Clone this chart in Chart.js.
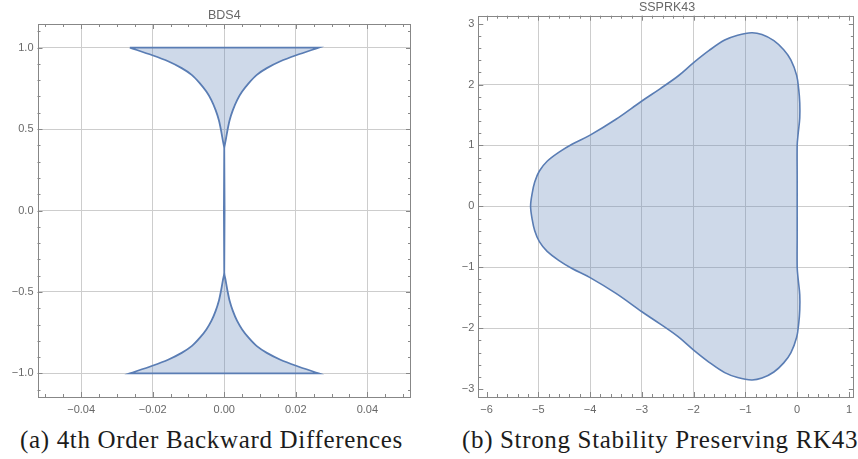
<!DOCTYPE html>
<html>
<head>
<meta charset="UTF-8">
<title>Stability regions</title>
<script src="https://cdn.jsdelivr.net/npm/chart.js"></script>
<style>
  body { margin: 0; width: 858px; height: 459px; overflow: hidden; background: #fff; position: relative; }
  canvas { position: absolute; top: 0; }
  #bds { left: 0; }
  #ssp { left: 430px; }
  .caption {
    position: absolute; top: 427px; white-space: nowrap;
    font-family: "Liberation Serif", serif; font-size: 25px; line-height: 25px; color: #1c1c1c;
  }
</style>
</head>
<body>

<canvas id="bds" width="430" height="420"></canvas>
<canvas id="ssp" width="428" height="420"></canvas>
<div class="caption" id="capA" style="left:20px">(a) 4th Order Backward Differences</div>
<div class="caption" id="capB" style="left:462px">(b) Strong Stability Preserving RK43</div>

<script>
// BDS4 boundary: upper-right quarter, the region is symmetric in x and y
const bdsY         = [1.000, 0.953, 0.916, 0.874, 0.833, 0.781, 0.730, 0.678, 0.616, 0.554, 0.492, 0.430, 0.380];
const bdsHalfWidth = [0.0264, 0.0201, 0.0157, 0.0119, 0.0091, 0.0068, 0.0050, 0.0036, 0.0024, 0.0015, 0.0009, 0.0004, 0.0];

// SSPRK43 boundary, upper half (mirror image below the real axis), right edge -> left tip
const sspX = [0.00, 0.00, 0.00, 0.02, 0.05, 0.05, 0.03, -0.01, -0.12, -0.26, -0.45, -0.68, -0.88, -1.15, -1.40, -1.70,
              -2.00, -2.30, -2.65, -3.00, -3.50, -4.00, -4.35, -4.60, -4.83, -4.98, -5.07, -5.12, -5.15];
const sspY = [0.00, 0.50, 1.00, 1.20, 1.45, 1.70, 1.92, 2.15, 2.40, 2.57, 2.72, 2.82, 2.85, 2.81, 2.73, 2.56,
              2.36, 2.14, 1.93, 1.73, 1.43, 1.17, 1.02, 0.89, 0.74, 0.58, 0.40, 0.21, 0.00];

// tick labels and grid lines
const bdsXTicks = [-0.04, -0.02, 0, 0.02, 0.04];
const bdsYTicks = [-1, -0.5, 0, 0.5, 1];
const sspXTicks = [-6, -5, -4, -3, -2, -1, 0, 1];
const sspYTicks = [-3, -2, -1, 0, 1, 2, 3];
const sspGridX = [-5, -4, -3, -2, -1, 0];
const sspGridY = [-2, -1, 0, 1, 2];

const lineColor = 'rgb(90,125,180)';
const fillColor = 'rgba(94,129,181,0.3)';
const gridColor = 'rgb(205,205,205)';
const frameColor = 'rgb(135,135,135)';
const labelColor = 'rgb(104,104,104)';
const labelFont = { family: 'Liberation Sans', size: 11 };

const minus = s => s.replace('-', '\u2212');

// build the closed BDS4 outline; tips are doubled so the spline keeps them sharp
function bdsOutline() {
  const n = bdsY.length;
  const pts = [];
  const tip = (sx, sy) => ({ x: sx * bdsHalfWidth[0], y: sy * bdsY[0] });
  pts.push(tip(-1, 1), tip(-1, 1), tip(1, 1), tip(1, 1));
  for (let i = 1; i < n; i++) pts.push({ x: bdsHalfWidth[i], y: bdsY[i] });
  for (let i = n - 1; i >= 1; i--) pts.push({ x: bdsHalfWidth[i], y: -bdsY[i] });
  pts.push(tip(1, -1), tip(1, -1), tip(-1, -1), tip(-1, -1));
  for (let i = 1; i < n; i++) pts.push({ x: -bdsHalfWidth[i], y: -bdsY[i] });
  for (let i = n - 1; i >= 1; i--) pts.push({ x: -bdsHalfWidth[i], y: bdsY[i] });
  pts.push(tip(-1, 1), tip(-1, 1));
  return pts;
}

// closed SSPRK43 outline: upper half, then its reflection back to the start
function sspOutline() {
  const pts = sspX.map((v, i) => ({ x: v, y: sspY[i] }));
  for (let i = sspX.length - 2; i >= 0; i--) pts.push({ x: sspX[i], y: -sspY[i] });
  return pts;
}

// frame with inward major/minor ticks on all four sides, plus the title
const framePlugin = {
  id: 'frame',
  afterDatasetsDraw(chart, args, o) {
    const { ctx, chartArea: a, scales: { x, y } } = chart;
    ctx.save();
    ctx.strokeStyle = frameColor;
    ctx.lineWidth = 1;
    ctx.beginPath();
    const isMajor = (v, step) => Math.abs(v / step - Math.round(v / step)) < 1e-6;
    for (let k = Math.ceil(x.min / o.xMinor); k * o.xMinor <= x.max; k++) {
      const v = k * o.xMinor;
      const px = Math.round(x.getPixelForValue(v)) + 0.5;
      const len = isMajor(v, o.xMajor) ? 5 : 3;
      ctx.moveTo(px, a.bottom); ctx.lineTo(px, a.bottom - len);
      ctx.moveTo(px, a.top); ctx.lineTo(px, a.top + len);
    }
    for (let k = Math.ceil(y.min / o.yMinor); k * o.yMinor <= y.max; k++) {
      const v = k * o.yMinor;
      const py = Math.round(y.getPixelForValue(v)) + 0.5;
      const len = isMajor(v, o.yMajor) ? 5 : 3;
      ctx.moveTo(a.left, py); ctx.lineTo(a.left + len, py);
      ctx.moveTo(a.right, py); ctx.lineTo(a.right - len, py);
    }
    ctx.stroke();
    ctx.strokeRect(Math.round(a.left) + 0.5, Math.round(a.top) + 0.5,
                   Math.round(a.right) - Math.round(a.left) - 1, Math.round(a.bottom) - Math.round(a.top));
    ctx.fillStyle = labelColor;
    ctx.font = '12.5px "Liberation Sans"';
    ctx.textAlign = 'center';
    ctx.textBaseline = 'middle';
    ctx.fillText(o.title, (a.left + a.right) / 2 + (o.titleShift || 0), o.titleY);
    ctx.restore();
  }
};

function makeChart(id, data, cfg) {
  return new Chart(document.getElementById(id), {
    type: 'scatter',
    data: {
      datasets: [{
        data: data,
        showLine: true,
        borderColor: lineColor,
        borderWidth: cfg.lineWidth,
        backgroundColor: fillColor,
        fill: 'shape',
        tension: cfg.tension,
        pointRadius: 0
      }]
    },
    options: {
      responsive: false,
      animation: false,
      layout: { padding: { left: 0, top: cfg.top, right: cfg.right, bottom: 0 } },
      plugins: {
        legend: { display: false },
        tooltip: { enabled: false },
        frame: cfg.frame
      },
      scales: {
        x: {
          type: 'linear', min: cfg.xMin, max: cfg.xMax,
          afterBuildTicks: s => { s.ticks = cfg.xTicks.map(v => ({ value: v })); },
          afterFit: s => { s.height = 23; },
          border: { display: false },
          grid: {
            drawTicks: false,
            color: c => (c.tick && cfg.gridX.includes(c.tick.value)) ? gridColor : 'rgba(0,0,0,0)'
          },
          ticks: { padding: 6, color: labelColor, font: labelFont, maxRotation: 0,
                   callback: v => minus(v.toFixed(cfg.xDigits)) }
        },
        y: {
          type: 'linear', min: cfg.yMin, max: cfg.yMax,
          afterBuildTicks: s => { s.ticks = cfg.yTicks.map(v => ({ value: v })); },
          afterFit: s => { s.width = cfg.yWidth; },
          border: { display: false },
          grid: {
            drawTicks: false,
            color: c => (c.tick && cfg.gridY.includes(c.tick.value)) ? gridColor : 'rgba(0,0,0,0)'
          },
          ticks: { padding: 4, color: labelColor, font: labelFont,
                   callback: v => minus(v.toFixed(cfg.yDigits)) }
        }
      }
    },
    plugins: [framePlugin]
  });
}

makeChart('bds', bdsOutline(), {
  lineWidth: 1.8, tension: 0.3,
  top: 24, right: 19, yWidth: 37.5,
  xMin: -0.0522, xMax: 0.0522, yMin: -1.145, yMax: 1.145,
  xTicks: bdsXTicks, yTicks: bdsYTicks, gridX: bdsXTicks, gridY: bdsYTicks,
  xDigits: 2, yDigits: 1,
  frame: { title: 'BDS4', titleY: 16, xMinor: 0.005, xMajor: 0.02, yMinor: 0.1, yMajor: 0.5 }
});

makeChart('ssp', sspOutline(), {
  lineWidth: 1.6, tension: 0.35,
  top: 15.7, right: 0.5, yWidth: 48.3,
  xMin: -6.16, xMax: 1.095, yMin: -3.13, yMax: 3.13,
  xTicks: sspXTicks, yTicks: sspYTicks, gridX: sspGridX, gridY: sspGridY,
  xDigits: 0, yDigits: 0,
  frame: { title: 'SSPRK43', titleY: 7.5, titleShift: 1, xMinor: 0.2, xMajor: 1, yMinor: 0.2, yMajor: 1 }
});

// stretch the serif captions to the width of the typeset originals
const capA = document.getElementById('capA');
const capB = document.getElementById('capB');
const spacing = (383 - capA.getBoundingClientRect().width) / capA.textContent.length;
capA.style.letterSpacing = spacing + 'px';
capB.style.letterSpacing = spacing + 'px';
</script>
</body>
</html>
